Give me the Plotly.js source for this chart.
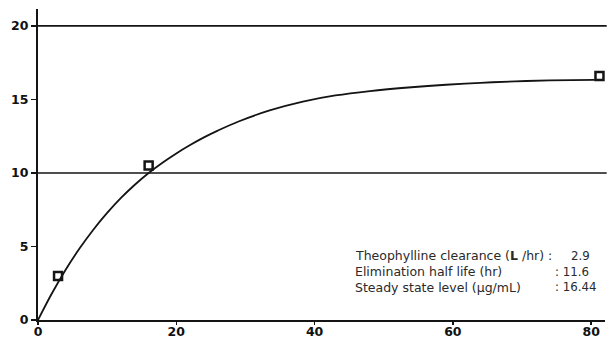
<!DOCTYPE html>
<html>
<head>
<meta charset="utf-8">
<script src="https://cdn.plot.ly/plotly-3.0.1.min.js"></script>
<style>html,body{margin:0;padding:0;background:#fff;}#chart{width:611px;height:340px;}</style>
</head>
<body>
<div id="chart"></div>
<script>
// Fitted curve
var curveX = [0, 2, 4, 6, 8, 10, 12, 14, 16, 18, 20, 22, 24, 26, 29, 33.5, 38.3, 43, 48, 54, 59, 64, 69, 74, 80.5];
var curveY = [0, 1.8, 3.42, 4.86, 6.14, 7.28, 8.3, 9.2, 10.0, 10.7, 11.33, 11.9, 12.42, 12.88, 13.5, 14.25, 14.85, 15.27, 15.57, 15.83, 16.0, 16.13, 16.23, 16.29, 16.33];
// Measured levels
var obsX = [2.9, 16.0, 81.2];
var obsY = [3.0, 10.5, 16.6];
// Reference lines and ticks
var refLines = [10, 20];
var yTicks = [0, 5, 10, 15, 20];
var xTicks = [0, 20, 40, 60, 80];
// Info box
var infoLabels = ["Theophylline clearance (<b>L</b> /hr) :", "Elimination half life (hr)", "Steady state level (µg/mL)"];
var infoValues = ["2.9", ": 11.6", ": 16.44"];

var ink = '#141414';
var traces = [
  {x: curveX, y: curveY, mode: 'lines', line: {color: ink, width: 1.8, shape: 'spline', smoothing: 1}, hoverinfo: 'skip'},
  {x: obsX, y: obsY, mode: 'markers', marker: {symbol: 'square-open', size: 8, color: ink, line: {width: 2.5, color: ink}}, cliponaxis: false}
];

var shapes = refLines.map(function (v) {
  return {type: 'line', xref: 'paper', yref: 'y', x0: 0, x1: 1.003, y0: v, y1: v, line: {color: ink, width: 1.6}};
});

var textFont = {family: '"DejaVu Sans", sans-serif', size: 12.5, color: '#2a2a2a'};
var valueFont = {family: '"DejaVu Sans", sans-serif', size: 11.8, color: '#2a2a2a'};
var annotations = [];
var rowY = [4.37, 3.29, 2.22];
infoLabels.forEach(function (t, i) {
  annotations.push({x: 45.6, y: rowY[i], xref: 'x', yref: 'y', text: t, showarrow: false, xanchor: 'left', yanchor: 'middle', font: textFont});
});
infoValues.forEach(function (t, i) {
  annotations.push({x: i === 0 ? 76.75 : 74.45, y: rowY[i], xref: 'x', yref: 'y', text: t, showarrow: false, xanchor: 'left', yanchor: 'middle', font: valueFont});
});

var tickFont = {family: '"DejaVu Sans", sans-serif', size: 12.5, weight: 'bold', color: '#111'};
var layout = {
  width: 611, height: 340,
  margin: {l: 38, r: 6, t: 9, b: 20, pad: 0},
  paper_bgcolor: '#fff', plot_bgcolor: '#fff',
  showlegend: false,
  xaxis: {range: [0, 82], tickvals: xTicks, ticktext: xTicks.map(String), showgrid: false, zeroline: false,
          showline: true, linecolor: ink, linewidth: 2, ticks: 'outside', ticklen: 3, tickwidth: 1.5, tickcolor: ink,
          tickfont: tickFont, ticklabelstandoff: -4, fixedrange: true},
  yaxis: {range: [0, 21.15], tickvals: yTicks, ticktext: yTicks.map(String), showgrid: false, zeroline: false,
          showline: true, linecolor: ink, linewidth: 2, ticks: 'outside', ticklen: 5, tickwidth: 1.5, tickcolor: ink,
          tickfont: tickFont, fixedrange: true},
  shapes: shapes,
  annotations: annotations
};

Plotly.newPlot('chart', traces, layout, {staticPlot: true, displayModeBar: false});
</script>
</body>
</html>
